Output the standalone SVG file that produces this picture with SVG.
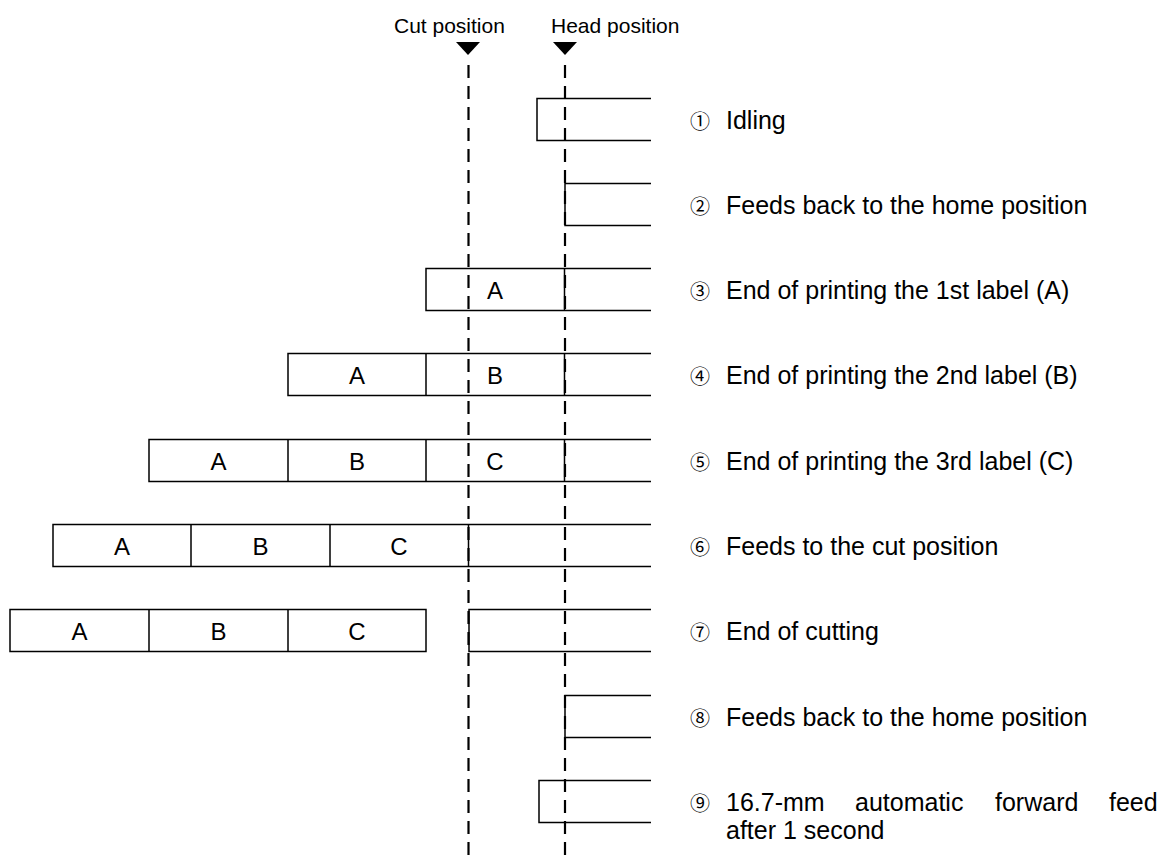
<svg xmlns="http://www.w3.org/2000/svg" width="1174" height="855" viewBox="0 0 1174 855">
<style>
.bx{fill:none;stroke:#000;stroke-width:1.5}
.gd{stroke:#000;stroke-width:2.2;stroke-dasharray:13 8;fill:none}
.hd{font-family:"Liberation Sans",Arial,sans-serif;font-size:21px;fill:#000}
.lb{font-family:"Liberation Sans",Arial,sans-serif;font-size:25px;fill:#000}
.n{font-family:"Noto Sans CJK JP","DejaVu Sans",sans-serif;font-size:20px}
.c{font-family:"Liberation Sans",Arial,sans-serif;font-size:24px;fill:#000;text-anchor:middle}
</style>
<rect width="1174" height="855" fill="#fff"/>
<g id="guides">
<text class="hd" x="394" y="33">Cut position</text>
<text class="hd" x="551" y="33">Head position</text>
<polygon points="456,42 480,42 468,55" fill="#000"/>
<polygon points="553,42 577,42 565,55" fill="#000"/>
<line class="gd" x1="468.5" y1="65" x2="468.5" y2="855"/>
<line class="gd" x1="565" y1="65" x2="565" y2="855"/>
</g>
<g id="row1">
<path class="bx" d="M651,98.5H537V140.5H651"/>
<text class="lb" x="690" y="129"><tspan class="n">①</tspan><tspan x="726">Idling</tspan></text>
</g>
<g id="row2">
<path class="bx" d="M651,183.5H565V225.5H651"/>
<text class="lb" x="690" y="214"><tspan class="n">②</tspan><tspan x="726">Feeds back to the home position</tspan></text>
</g>
<g id="row3">
<path class="bx" d="M651,268.5H426V310.5H651M564.5,268.5V310.5"/>
<text class="c" x="495" y="299">A</text>
<text class="lb" x="690" y="299"><tspan class="n">③</tspan><tspan x="726">End of printing the 1st label (A)</tspan></text>
</g>
<g id="row4">
<path class="bx" d="M651,353.5H288V395.5H651M426,353.5V395.5M564.5,353.5V395.5"/>
<text class="c" x="357" y="384">A</text>
<text class="c" x="495" y="384">B</text>
<text class="lb" x="690" y="384"><tspan class="n">④</tspan><tspan x="726">End of printing the 2nd label (B)</tspan></text>
</g>
<g id="row5">
<path class="bx" d="M651,439.5H149V481.5H651M288,439.5V481.5M426,439.5V481.5M564.5,439.5V481.5"/>
<text class="c" x="218.5" y="470">A</text>
<text class="c" x="357" y="470">B</text>
<text class="c" x="495" y="470">C</text>
<text class="lb" x="690" y="470"><tspan class="n">⑤</tspan><tspan x="726">End of printing the 3rd label (C)</tspan></text>
</g>
<g id="row6">
<path class="bx" d="M651,524.5H53V566.5H651M191,524.5V566.5M330,524.5V566.5M468.5,524.5V566.5"/>
<text class="c" x="122" y="555">A</text>
<text class="c" x="260.5" y="555">B</text>
<text class="c" x="399" y="555">C</text>
<text class="lb" x="690" y="555"><tspan class="n">⑥</tspan><tspan x="726">Feeds to the cut position</tspan></text>
</g>
<g id="row7">
<rect class="bx" x="10" y="609.5" width="416" height="42"/>
<path class="bx" d="M149,609.5V651.5M288,609.5V651.5"/>
<path class="bx" d="M651,609.5H469V651.5H651"/>
<text class="c" x="79.5" y="640">A</text>
<text class="c" x="218.5" y="640">B</text>
<text class="c" x="357" y="640">C</text>
<text class="lb" x="690" y="640"><tspan class="n">⑦</tspan><tspan x="726">End of cutting</tspan></text>
</g>
<g id="row8">
<path class="bx" d="M651,695.5H565V737.5H651"/>
<text class="lb" x="690" y="726"><tspan class="n">⑧</tspan><tspan x="726">Feeds back to the home position</tspan></text>
</g>
<g id="row9">
<path class="bx" d="M651,780.5H539V822.5H651"/>
<text class="lb" x="690" y="811"><tspan class="n">⑨</tspan><tspan x="726">16.7-mm</tspan><tspan x="855">automatic</tspan><tspan x="995">forward</tspan><tspan x="1109">feed</tspan></text>
<text class="lb" x="726" y="839">after 1 second</text>
</g>
</svg>
